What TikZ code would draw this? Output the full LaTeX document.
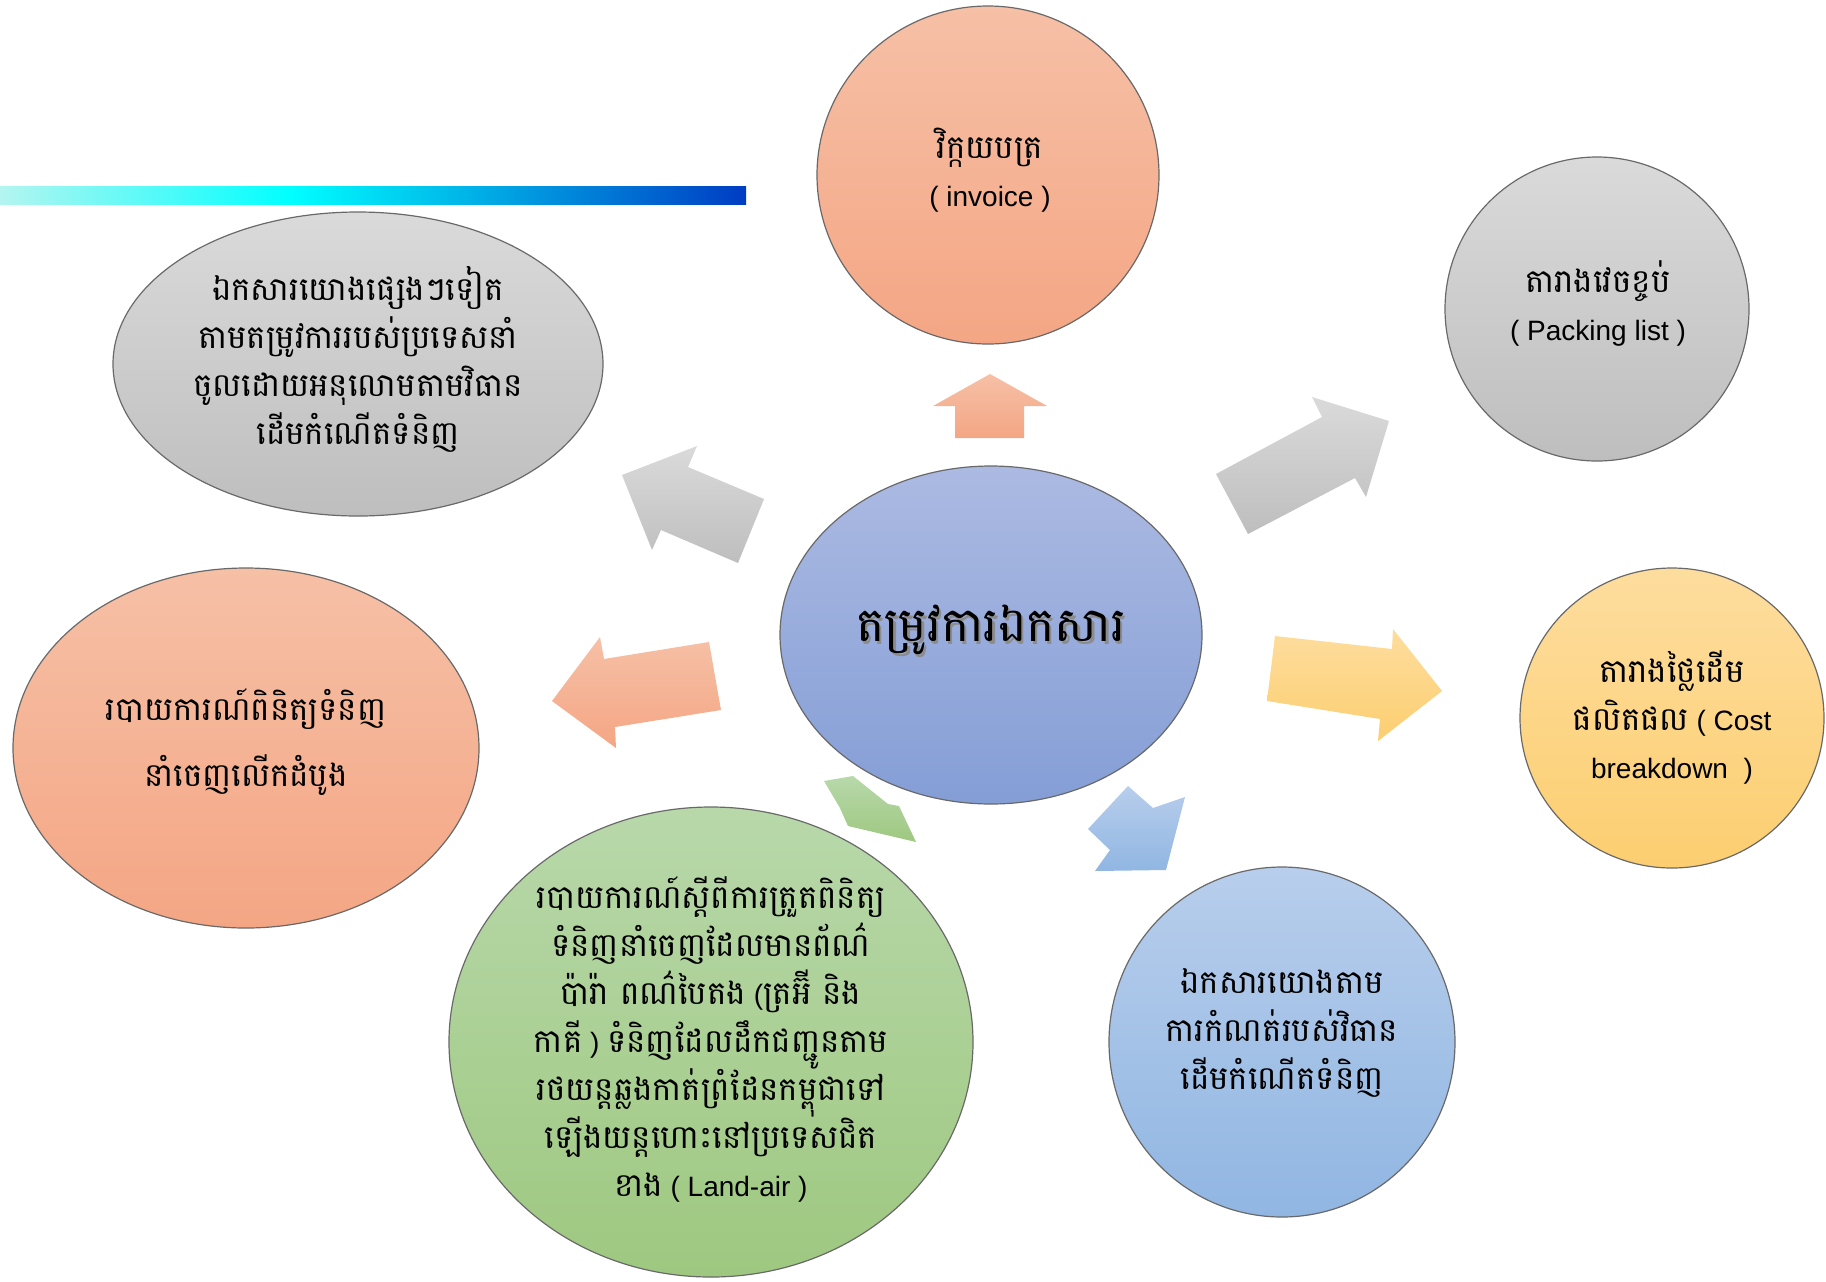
\documentclass[tikz,border=0pt]{standalone}
\usepackage{fontspec}
\setmainfont{Liberation Sans}
\newfontfamily\kh[Script=Khmer,Scale=1.16]{Battambang}
\usetikzlibrary{shapes.geometric}
\definecolor{salT}{RGB}{246,192,166}
\definecolor{salB}{RGB}{244,166,132}
\definecolor{gryT}{RGB}{218,218,218}
\definecolor{gryB}{RGB}{190,190,190}
\definecolor{yelT}{RGB}{253,221,158}
\definecolor{yelB}{RGB}{252,206,112}
\definecolor{bluT}{RGB}{184,206,236}
\definecolor{bluB}{RGB}{144,182,226}
\definecolor{grnT}{RGB}{184,216,170}
\definecolor{grnB}{RGB}{158,200,128}
\definecolor{cenT}{RGB}{172,186,226}
\definecolor{cenB}{RGB}{132,158,214}
\definecolor{edge}{RGB}{105,105,105}
\definecolor{barL}{RGB}{180,245,240}
\definecolor{barM}{RGB}{0,255,255}
\definecolor{barR}{RGB}{0,60,195}
\lineskiplimit=-100pt
\lineskip=0pt
\tikzset{
  bubble/.style={ellipse, draw=edge, line width=0.6pt, inner sep=0pt},
  txt/.style={align=center, inner sep=0pt, font=\fontsize{14}{24}\selectfont},
  blockarrow/.style={draw=none},
}
\begin{document}
\begin{tikzpicture}[x=0.5pt,y=-0.5pt]
\useasboundingbox (0,0) rectangle (1826,1281);
\fill[white] (0,0) rectangle (1826,1281);
% gradient bar
\shade[left color=barL, right color=barM] (0,186) rectangle (290,204);
\shade[left color=barM, right color=barR] (290,186) rectangle (746,204);

% bubbles
\node[bubble, minimum width=245pt, minimum height=152pt, top color=gryT, bottom color=gryB] (gray) at (358,364) {};
\node[bubble, minimum width=171pt, minimum height=169pt, top color=salT, bottom color=salB] (inv) at (988,175) {};
\node[bubble, minimum width=152pt, minimum height=152pt, top color=gryT, bottom color=gryB] (pack) at (1597,309) {};
\node[bubble, minimum width=152pt, minimum height=150pt, top color=yelT, bottom color=yelB] (cost) at (1672,718) {};
\node[bubble, minimum width=233pt, minimum height=180pt, top color=salT, bottom color=salB] (first) at (246,748) {};
\node[bubble, minimum width=262pt, minimum height=235pt, top color=grnT, bottom color=grnB] (land) at (711,1042) {};
\node[bubble, minimum width=173pt, minimum height=175pt, top color=bluT, bottom color=bluB] (rule) at (1282,1042) {};
\node[bubble, minimum width=211pt, minimum height=169pt, top color=cenT, bottom color=cenB] (cen) at (991,635) {};

% block arrows
\shade[blockarrow, top color=gryT, bottom color=gryB] (622,475) -- (697,446) -- (688,467) -- (764,499) -- (738,563) -- (661,530) -- (652,550) -- cycle;
\shade[blockarrow, top color=salT, bottom color=salB] (990,374) -- (1047,406) -- (1024,406) -- (1024,438) -- (955,438) -- (955,406) -- (933,406) -- cycle;
\shade[blockarrow, top color=gryT, bottom color=gryB] (1389,421) -- (1312,397) -- (1322,417) -- (1216,474) -- (1248,534) -- (1355,478) -- (1366,497) -- cycle;
\shade[blockarrow, top color=salT, bottom color=salB] (552,701) -- (600,637) -- (604,659) -- (709,642) -- (721,710) -- (615,727) -- (616,748) -- cycle;
\shade[blockarrow, top color=yelT, bottom color=yelB] (1275,636) -- (1392,649) -- (1393,629) -- (1442,691) -- (1378,741) -- (1380,719) -- (1267,701) -- cycle;
\shade[blockarrow, top color=grnT, bottom color=grnB] (824,781) -- (853,776) -- (888,804) -- (899,806) -- (916,842) -- (848,826) -- (840,808) -- cycle;
\shade[blockarrow, top color=bluT, bottom color=bluB] (1088,829) -- (1128,786) -- (1153,808) -- (1185,797) -- (1166,870) -- (1095,871) -- (1110,850) -- cycle;

% texts
\node[txt] (tgray) at (358,359) {\kh ឯកសារយោងផ្សេងៗទៀត\\ \kh តាមតម្រូវការរបស់ប្រទេសនាំ\\ \kh ចូលដោយអនុលោមតាមវិធាន\\ \kh ដើមកំណើតទំនិញ};
\node[txt] (tinv) at (990,170) {\kh វិក្កយបត្រ\\ ( invoice )};
\node[txt] (tpack) at (1598,303) {\kh តារាងវេចខ្ចប់\\ ( Packing list )};
\node[txt] (tcost) at (1672,717) {\kh តារាងថ្លៃដើម\\ {\kh ផលិតផល} ( Cost\\ breakdown\ \ )};
\node[txt, font=\fontsize{14}{33}\selectfont] (tfirst) at (246,742) {\kh របាយការណ៍ពិនិត្យទំនិញ\\ \kh នាំចេញលើកដំបូង};
\node[txt] (tland) at (711,1039) {\kh របាយការណ៍ស្តីពីការត្រួតពិនិត្យ\\ \kh ទំនិញនាំចេញដែលមានព័ណ៌\\ {\kh ប៉ារ៉ា ពណ៌បៃតង} ({\kh ត្រអ៊ី និង}\\ {\kh កាគី} ) {\kh ទំនិញដែលដឹកជញ្ជូនតាម}\\ \kh រថយន្តឆ្លងកាត់ព្រំដែនកម្ពុជាទៅ\\ \kh ឡើងយន្តហោះនៅប្រទេសជិត\\ {\kh ខាង} ( Land-air )};
\node[txt] (trule) at (1282,1033) {\kh ឯកសារយោងតាម\\ \kh ការកំណត់របស់វិធាន\\ \kh ដើមកំណើតទំនិញ};
\node[txt, font=\fontsize{20.5}{30}\selectfont, text=black!45] (tcensh) at (993.5,632.5) {\kh តម្រូវការឯកសារ};
\node[txt, font=\fontsize{20.5}{30}\selectfont] (tcen) at (991,630) {\kh តម្រូវការឯកសារ};
\end{tikzpicture}
\end{document}
